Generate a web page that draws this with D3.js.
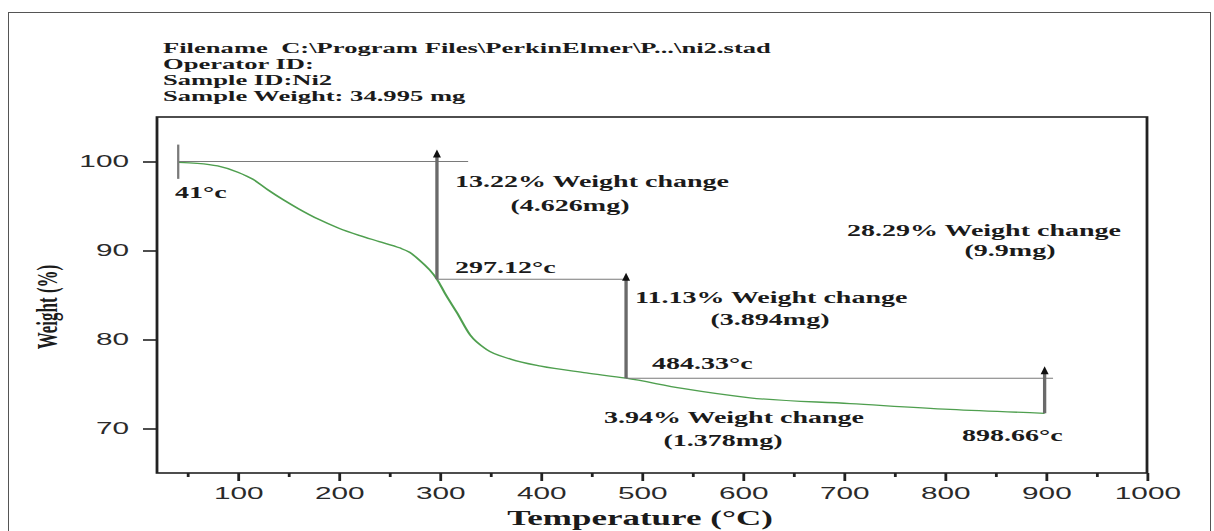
<!DOCTYPE html>
<html>
<head>
<meta charset="utf-8">
<script src="https://cdn.jsdelivr.net/npm/d3@7/dist/d3.min.js"></script>
<style>
  html, body { margin: 0; padding: 0; background: #fff; }
  svg { display: block; }
</style>
</head>
<body>
<svg id="chart" width="1214" height="531"></svg>
<script>
// TGA run of sample Ni2: temperature (°C) vs. remaining weight (%)
const temperature = [41, 60, 80, 100, 115, 130, 145, 160, 180, 200, 220, 240, 260, 270, 280, 290,
  297.12, 305, 317, 330, 346, 370, 400, 445, 484.33, 540, 607, 706, 805, 898.66];
const weight = [99.9, 99.8, 99.5, 98.8, 98.0, 96.8, 95.7, 94.7, 93.5, 92.5, 91.7, 91.0, 90.3, 89.8, 88.9, 87.8,
  86.78, 85.2, 83.0, 80.5, 78.9, 77.8, 77.0, 76.25, 75.65, 74.5, 73.45, 72.8, 72.15, 71.71];

// Step points marking each weight-loss stage
const stepTemps = [41, 297.12, 484.33, 898.66];
const stepWeights = [100, 86.78, 75.65, 71.71];
const stepLabels = ["41°c", "297.12°c", "484.33°c", "898.66°c"];
const changeLabels = ["13.22% Weight change", "11.13% Weight change", "3.94% Weight change", "28.29% Weight change"];
const massLabels = ["(4.626mg)", "(3.894mg)", "(1.378mg)", "(9.9mg)"];

const headerLines = [
  "Filename  C:\\Program Files\\PerkinElmer\\P...\\ni2.stad",
  "Operator ID:",
  "Sample ID:Ni2",
  "Sample Weight: 34.995 mg"
];

const xMajorTicks = [100, 200, 300, 400, 500, 600, 700, 800, 900, 1000];
const xMinorTicks = [50, 150, 250, 350, 450, 550, 650, 750, 850, 950];
const yTicks = [70, 80, 90, 100];

// The figure is drawn with a horizontal stretch applied to everything inside it
const S = 1.75;
const svg = d3.select("#chart");

// outer page frame
svg.append("rect")
  .attr("x", 8.5).attr("y", 12.5).attr("width", 1202).attr("height", 540)
  .attr("fill", "none").attr("stroke", "#555").attr("stroke-width", 1);

const g = svg.append("g").attr("transform", `scale(${S},1)`);

const plotL = 157 / S, plotR = 1147 / S, plotT = 117, plotB = 473;
const x = d3.scaleLinear().domain([20, 1000]).range([plotL, plotR]);
const y = d3.scaleLinear().domain([65, 105]).range([plotB, plotT]);

const serif = "'Liberation Serif', 'Times New Roman', serif";
const sans = "'Liberation Sans', Arial, sans-serif";

// header block
g.append("g").selectAll("text").data(headerLines).join("text")
  .attr("x", 163 / S)
  .attr("y", (d, i) => 53.5 + i * 16)
  .attr("font-family", serif).attr("font-weight", "bold").attr("font-size", 15.2)
  .attr("fill", "#1b1b1b")
  .attr("xml:space", "preserve")
  .text(d => d);

// axes
const xAxisMajor = d3.axisBottom(x).tickValues(xMajorTicks).tickSize(8).tickSizeOuter(0).tickPadding(6)
  .tickFormat(d3.format("d"));
const xAxisMinor = d3.axisBottom(x).tickValues(xMinorTicks).tickSize(4).tickSizeOuter(0).tickFormat("");
const yAxis = d3.axisLeft(y).tickValues(yTicks).tickSize(8).tickSizeOuter(0).tickPadding(8)
  .tickFormat(d3.format("d"));

function styleAxis(sel) {
  sel.select(".domain").remove();
  sel.selectAll(".tick line").attr("stroke", "#222").attr("stroke-width", 1.6);
  sel.selectAll(".tick text").attr("font-family", sans).attr("font-size", 17).attr("fill", "#2a2a2a");
}

g.append("g").attr("transform", `translate(0,${plotB})`).call(xAxisMajor).call(styleAxis);
g.append("g").attr("transform", `translate(0,${plotB})`).call(xAxisMinor).call(styleAxis);
g.append("g").attr("transform", `translate(${plotL},0)`).call(yAxis).call(styleAxis);

// plot frame
g.append("rect")
  .attr("x", plotL).attr("y", plotT).attr("width", plotR - plotL).attr("height", plotB - plotT)
  .attr("fill", "none").attr("stroke", "#222").attr("stroke-width", 1.6);

// axis titles
g.append("text")
  .attr("x", 640 / S).attr("y", 525)
  .attr("text-anchor", "middle")
  .attr("font-family", serif).attr("font-weight", "bold").attr("font-size", 20).attr("fill", "#1b1b1b")
  .text("Temperature (°C)");

g.append("text")
  .attr("transform", `translate(${47 / S},307) rotate(-90)`)
  .attr("text-anchor", "middle").attr("dominant-baseline", "central")
  .attr("font-family", serif).attr("font-weight", "bold").attr("font-size", 17).attr("fill", "#1b1b1b")
  .text("Weight (%)");

// TGA curve
const pts = temperature.map((t, i) => [t, weight[i]]);
g.append("path")
  .datum(pts)
  .attr("fill", "none").attr("stroke", "#4f9f4f").attr("stroke-width", 1.3)
  .attr("d", d3.line().x(d => x(d[0])).y(d => y(d[1])).curve(d3.curveMonotoneX));

// step construction lines
const ann = g.append("g");
const grey = "#7a7a7a";

// start marker at 41 °C with the reference level
ann.append("line")
  .attr("x1", x(stepTemps[0])).attr("x2", x(stepTemps[0]))
  .attr("y1", y(101.9)).attr("y2", y(98.05))
  .attr("stroke", grey).attr("stroke-width", 1.3);
ann.append("line")
  .attr("x1", x(stepTemps[0])).attr("x2", x(328))
  .attr("y1", y(stepWeights[0])).attr("y2", y(stepWeights[0]))
  .attr("stroke", grey).attr("stroke-width", 1);

// horizontal levels after each stage
const levelEnds = [487, 907];
[1, 2].forEach((k, i) => {
  ann.append("line")
    .attr("x1", x(stepTemps[k])).attr("x2", x(levelEnds[i]))
    .attr("y1", y(stepWeights[k])).attr("y2", y(stepWeights[k]))
    .attr("stroke", grey).attr("stroke-width", 1);
});

// vertical arrows: each rises from a stage end up past the previous level
const arrowTops = [101.35, 87.5, 77.0];
[1, 2, 3].forEach((k, i) => {
  const ax = x(stepTemps[k]);
  const yTip = y(arrowTops[i]);
  ann.append("line")
    .attr("x1", ax).attr("x2", ax)
    .attr("y1", y(stepWeights[k])).attr("y2", yTip + 6)
    .attr("stroke", "#6a6a6a").attr("stroke-width", 1.9);
  ann.append("path")
    .attr("d", `M${ax},${yTip} L${ax - 2.3},${yTip + 8} L${ax + 2.3},${yTip + 8} Z`)
    .attr("fill", "#111");
});

// annotation texts
function label(px, py, str, anchor) {
  g.append("text")
    .attr("x", px / S).attr("y", py)
    .attr("text-anchor", anchor || "start")
    .attr("font-family", serif).attr("font-weight", "bold").attr("font-size", 16)
    .attr("fill", "#1b1b1b")
    .text(str);
}
label(175, 198, stepLabels[0]);
label(455, 273, stepLabels[1]);
label(652, 369, stepLabels[2]);
label(962, 441, stepLabels[3]);

label(455, 187, changeLabels[0]);
label(570, 211, massLabels[0], "middle");
label(635, 303, changeLabels[1]);
label(770, 325, massLabels[1], "middle");
label(604, 423, changeLabels[2]);
label(723, 446, massLabels[2], "middle");
label(847, 236, changeLabels[3]);
label(1010, 256, massLabels[3], "middle");
</script>
</body>
</html>
